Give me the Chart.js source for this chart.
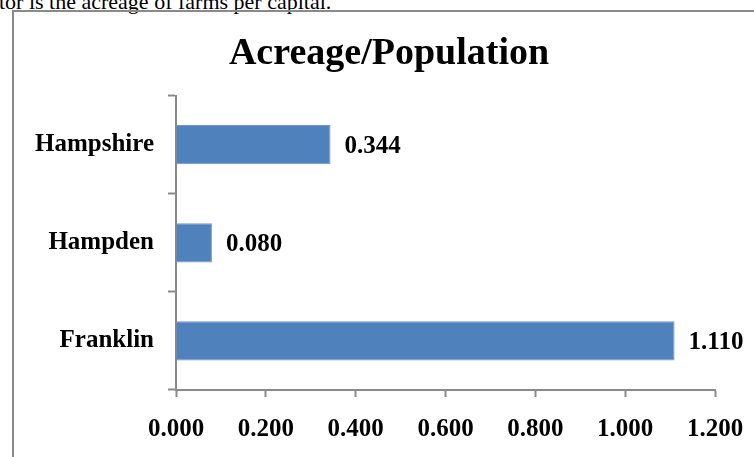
<!DOCTYPE html>
<html>
<head>
<meta charset="utf-8">
<script src="https://cdn.jsdelivr.net/npm/chart.js@4"></script>
<style>
  html, body { margin: 0; padding: 0; background: #fff; overflow: hidden; }
  body { width: 754px; height: 457px; position: relative; }
  #above {
    position: absolute; left: -1px; top: -9px; white-space: nowrap;
    font: 22px/1 "Liberation Serif", "Times New Roman", serif; color: #000;
  }
  #frame {
    position: absolute; left: 12px; top: 10px; width: 800px; height: 500px;
    border: 2px solid #8a8a8a; box-sizing: border-box;
  }
  #wrap { position: absolute; left: 13px; top: 0; width: 752px; height: 457px; }
</style>
</head>
<body>
<div id="above">tor is the acreage of farms per capital.</div>
<div id="frame"></div>
<div id="wrap"><canvas id="chart-acreage"></canvas></div>
<script>
const counties = ["Hampshire", "Hampden", "Franklin"];
const acreagePerCapita = [0.344, 0.080, 1.110];
const xTicks = [0, 0.2, 0.4, 0.6, 0.8, 1.0, 1.2];

const serif = "'Liberation Serif', 'Times New Roman', serif";

// value labels to the right of each bar
const valueLabels = {
  id: "valueLabels",
  afterDatasetsDraw(chart) {
    const ctx = chart.ctx;
    const meta = chart.getDatasetMeta(0);
    ctx.save();
    ctx.font = "bold 25px " + serif;
    ctx.fillStyle = "#000";
    ctx.textAlign = "left";
    ctx.textBaseline = "middle";
    meta.data.forEach((bar, i) => {
      ctx.fillText(acreagePerCapita[i].toFixed(3), bar.x + 14, bar.y + 2);
    });
    ctx.restore();
  },
};

const ctx = document.getElementById("chart-acreage").getContext("2d");
const myChart = new Chart(ctx, {
  type: "bar",
  data: {
    labels: counties,
    datasets: [
      {
        label: "Acreage/Population",
        data: acreagePerCapita,
        backgroundColor: "#4F81BD",
        borderColor: "#6E98CB",
        borderWidth: 1,
        barPercentage: 0.4,
        categoryPercentage: 1,
      },
    ],
  },
  plugins: [valueLabels],
  options: {
    indexAxis: "y",
    responsive: true,
    maintainAspectRatio: false,
    animation: false,
    layout: { padding: { left: 10, right: 10, top: 14, bottom: 0 } },
    plugins: {
      legend: { display: false },
      tooltip: { enabled: false },
      title: {
        display: true,
        text: "Acreage/Population",
        color: "#000",
        font: { family: serif, size: 38, weight: "bold" },
        padding: { top: 17, bottom: 19 },
      },
    },
    scales: {
      x: {
        min: 0,
        max: 1.2,
        afterBuildTicks(scale) {
          scale.ticks = xTicks.map((v) => ({ value: v }));
        },
        afterFit(scale) {
          scale.height = 67;
          scale.paddingRight = 50;
        },
        border: { color: "#8a8a8a", width: 2 },
        grid: {
          drawOnChartArea: false,
          drawTicks: true,
          tickLength: 7,
          tickWidth: 2,
          color: "#8a8a8a",
        },
        ticks: {
          padding: 18,
          color: "#000",
          font: { family: serif, size: 25, weight: "bold" },
          callback: (v) => Number(v).toFixed(3),
        },
      },
      y: {
        afterFit(scale) {
          scale.width = 153;
        },
        border: { color: "#8a8a8a", width: 2 },
        grid: {
          offset: true,
          drawOnChartArea: false,
          drawTicks: true,
          tickLength: 8,
          tickWidth: 2,
          color: "#8a8a8a",
        },
        ticks: {
          padding: 14,
          color: "#000",
          font: { family: serif, size: 25, weight: "bold" },
        },
      },
    },
  },
});
</script>
</body>
</html>
